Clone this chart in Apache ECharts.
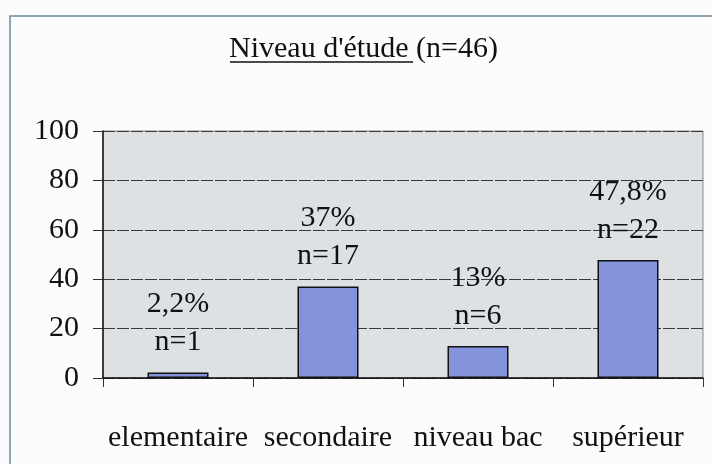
<!DOCTYPE html>
<html>
<head>
<meta charset="utf-8">
<script src="https://cdn.jsdelivr.net/npm/echarts@6/dist/echarts.min.js"></script>
<style>
  html, body { margin: 0; padding: 0; background: #fcfcfc; }
  #chart { width: 712px; height: 464px; }
</style>
</head>
<body>
<div id="chart"></div>
<script>
// data
const categories = ['elementaire', 'secondaire', 'niveau bac', 'supérieur'];
const percents = [2.2, 37, 13, 47.8];
const counts = [1, 17, 6, 22];
const yTicks = { min: 0, max: 100, interval: 20 };

const serif = "'Liberation Serif', 'Times New Roman', serif";
const ink = '#111';

let myChart = echarts.init(document.getElementById('chart'));

let option = {
  backgroundColor: '#fcfcfc',
  animation: false,
  title: {
    text: "Niveau d'étude (n=46)",
    left: 229,
    top: 33,
    padding: 0,
    textStyle: { fontFamily: serif, fontSize: 30, fontWeight: 'normal', color: ink, lineHeight: 32 }
  },
  graphic: [
    // underline of "Niveau d'étude"
    { type: 'line', shape: { x1: 230, y1: 62, x2: 413, y2: 62 }, style: { stroke: ink, lineWidth: 1.5 } },
    // outer frame (left + top)
    { type: 'polyline', shape: { points: [[10, 464], [10, 16], [712, 16]] }, style: { stroke: '#6f8c99', lineWidth: 1.5, fill: null } }
  ],
  grid: {
    left: 103,
    right: 9,
    top: 131,
    bottom: 86,
    show: true,
    backgroundColor: '#dde1e4',
    borderColor: '#8a8a8a',
    borderWidth: 1
  },
  xAxis: {
    type: 'category',
    data: categories,
    axisLine: { lineStyle: { color: '#111', width: 1.5 } },
    axisTick: { show: true, interval: 0, length: 9, lineStyle: { color: '#333' } },
    axisLabel: { interval: 0, fontFamily: serif, fontSize: 30, color: ink, margin: 45 }
  },
  yAxis: {
    type: 'value',
    min: yTicks.min,
    max: yTicks.max,
    interval: yTicks.interval,
    axisLine: { show: true, lineStyle: { color: '#111', width: 1.5 } },
    axisTick: { show: true, length: 10, lineStyle: { color: '#333' } },
    axisLabel: { fontFamily: serif, fontSize: 30, color: ink, margin: 24 },
    splitLine: { show: true, lineStyle: { color: '#3a3a3a', width: 1, type: [12, 2] } }
  },
  series: [
    {
      type: 'bar',
      barWidth: 61,
      data: percents,
      itemStyle: { color: '#8592dc', borderColor: '#111', borderWidth: 1.5 },
      label: {
        show: true,
        position: 'top',
        distance: 11,
        fontFamily: serif,
        fontSize: 30,
        lineHeight: 38,
        color: ink,
        formatter: function (p) {
          return String(p.value).replace('.', ',') + '%\nn=' + counts[p.dataIndex];
        }
      }
    }
  ]
};

myChart.setOption(option);
</script>
</body>
</html>
